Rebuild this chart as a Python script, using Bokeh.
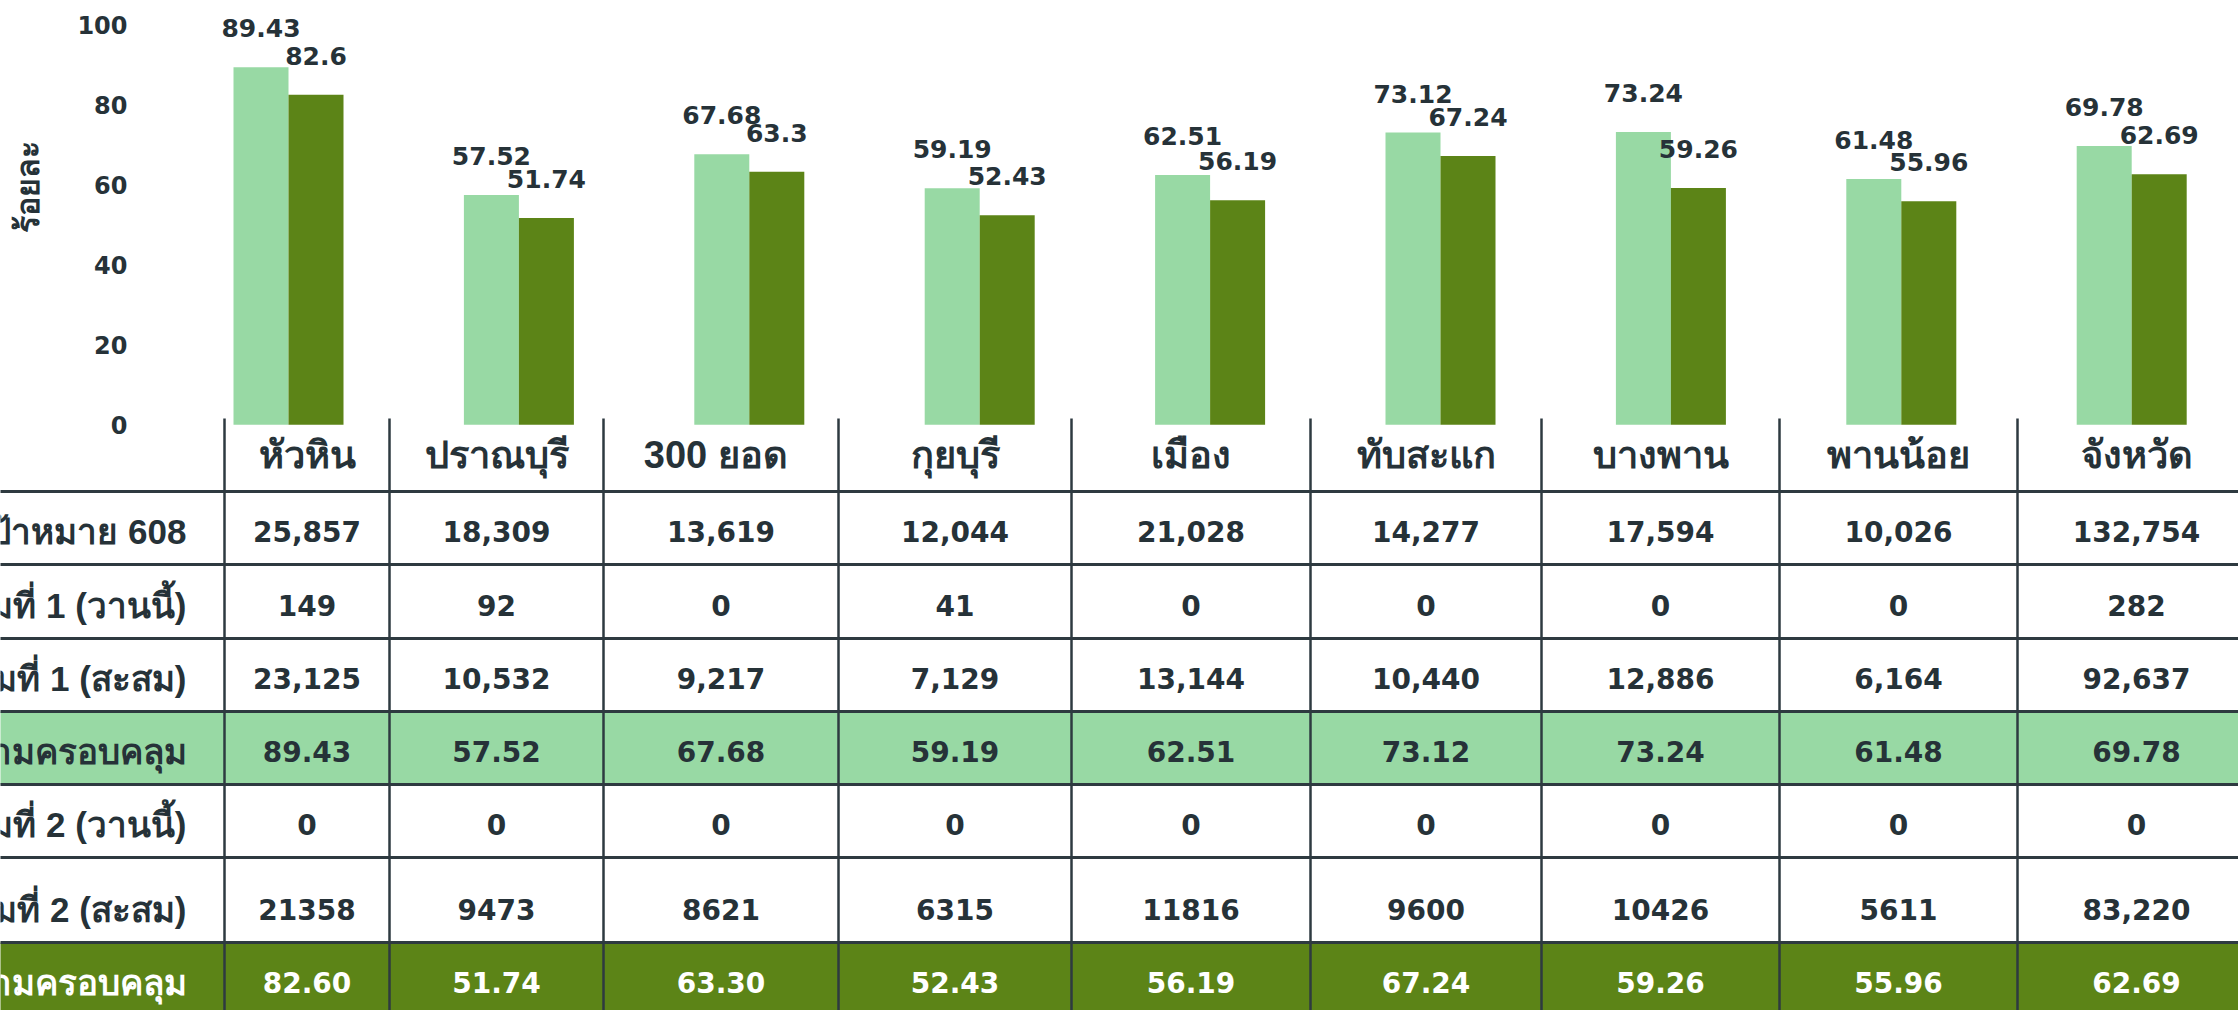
import math
from bokeh.plotting import figure
from bokeh.models import Range1d, LinearAxis, FixedTicker
from bokeh.core.properties import value
from bokeh.embed import file_html
from bokeh.resources import INLINE

# ---------------- data ----------------
categories = ["หัวหิน", "ปราณบุรี", "300  ยอด", "กุยบุรี", "เมือง", "ทับสะแก", "บางพาน", "พานน้อย", "จังหวัด"]
dose1_coverage = [89.43, 57.52, 67.68, 59.19, 62.51, 73.12, 73.24, 61.48, 69.78]
dose2_coverage = [82.6, 51.74, 63.3, 52.43, 56.19, 67.24, 59.26, 55.96, 62.69]
y_ticks = [0, 20, 40, 60, 80, 100]
y_title = "ร้อยละ"

row_labels = ["เป้าหมาย 608", "เข็มที่ 1 (วานนี้)", "เข็มที่ 1 (สะสม)", "ความครอบคลุม",
              "เข็มที่ 2 (วานนี้)", "เข็มที่ 2 (สะสม)", "ความครอบคลุม"]
target_608 = ["25,857", "18,309", "13,619", "12,044", "21,028", "14,277", "17,594", "10,026", "132,754"]
dose1_today = ["149", "92", "0", "41", "0", "0", "0", "0", "282"]
dose1_total = ["23,125", "10,532", "9,217", "7,129", "13,144", "10,440", "12,886", "6,164", "92,637"]
dose2_today = ["0", "0", "0", "0", "0", "0", "0", "0", "0"]
dose2_total = ["21358", "9473", "8621", "6315", "11816", "9600", "10426", "5611", "83,220"]

# ---------------- style / layout ----------------
LIGHT = "#98D9A4"
DARK = "#5C8417"
INK = "#263238"
RULE = "#2E3A40"
NUM_FONT = "DejaVu Sans"
THAI_FONT = "'Liberation Sans', sans-serif"

VIEW_X = (0, 2238)
VIEW_Y = (0, 1010)
CAT_FIRST_PX, CAT_STEP_PX = 288.0, 230.4
ZERO_PX, PX_PER_PCT = 424.3, 3.997
BAR_W_PX = 55.0
COL_EDGES_PX = [-60, 224, 389, 603, 838, 1071, 1310, 1541, 1779, 2017, 2255]
ROW_EDGES_PX = [418, 491, 564, 638, 711, 784, 857, 942, 1015]
BASELINE_UP = 33.5
HEADER_EXTRA_UP = 3
LABEL_RIGHT_PX = 186
YTITLE_PX = (27.7, 186)

W = VIEW_X[1] - VIEW_X[0]
H = VIEW_Y[1] - VIEW_Y[0]

p = figure(width=W, height=H,
           x_range=Range1d(*VIEW_X), y_range=Range1d(VIEW_Y[1], VIEW_Y[0]),
           output_backend="svg", toolbar_location=None,
           x_axis_location=None, y_axis_location=None,
           min_border=0, outline_line_color=None)
p.grid.visible = False
p.background_fill_color = "white"

p.extra_x_ranges = {"cat": Range1d((VIEW_X[0] - CAT_FIRST_PX) / CAT_STEP_PX,
                                   (VIEW_X[1] - CAT_FIRST_PX) / CAT_STEP_PX)}
p.extra_y_ranges = {"pct": Range1d((ZERO_PX - VIEW_Y[1]) / PX_PER_PCT,
                                   (ZERO_PX - VIEW_Y[0]) / PX_PER_PCT)}

# ---------------- bars ----------------
half = BAR_W_PX / CAT_STEP_PX / 2
idx = list(range(len(categories)))
x_d1 = [i - half for i in idx]
x_d2 = [i + half for i in idx]
p.vbar(x=x_d1, top=dose1_coverage, bottom=0, width=2 * half, fill_color=LIGHT,
       line_color=None, x_range_name="cat", y_range_name="pct")
p.vbar(x=x_d2, top=dose2_coverage, bottom=0, width=2 * half, fill_color=DARK,
       line_color=None, x_range_name="cat", y_range_name="pct")

for xs, vals in ((x_d1, dose1_coverage), (x_d2, dose2_coverage)):
    p.text(x=xs, y=vals, text=[str(v) for v in vals], x_range_name="cat", y_range_name="pct",
           text_align="center", text_baseline="middle", y_offset=-39,
           text_font=value(NUM_FONT), text_font_style="bold",
           text_font_size=value("25px"), text_color=INK)

ax = LinearAxis(y_range_name="pct", ticker=FixedTicker(ticks=y_ticks), fixed_location=127)
ax.axis_line_color = None
ax.major_tick_line_color = None
ax.minor_tick_line_color = None
ax.major_tick_out = 0
ax.major_tick_in = 0
ax.major_label_standoff = 0
ax.major_label_text_font = NUM_FONT
ax.major_label_text_font_style = "bold"
ax.major_label_text_font_size = "24px"
ax.major_label_text_color = INK
p.add_layout(ax, "left")

p.text(x=[YTITLE_PX[0]], y=[YTITLE_PX[1]], text=[y_title], angle=math.pi / 2,
       text_align="center", text_baseline="middle",
       text_font=value(THAI_FONT), text_font_style="bold",
       text_font_size=value("32px"), text_color=INK)

# ---------------- table ----------------
left_edge, right_edge = COL_EDGES_PX[0], COL_EDGES_PX[-1]
row_fills = [None, None, None, None, LIGHT, None, None, DARK]
for r, fc in enumerate(row_fills):
    if fc:
        p.quad(left=left_edge, right=right_edge, top=ROW_EDGES_PX[r], bottom=ROW_EDGES_PX[r + 1],
               fill_color=fc, line_color=None)

inner_rows = ROW_EDGES_PX[1:-1]
p.segment(x0=[left_edge] * len(inner_rows), x1=[right_edge] * len(inner_rows),
          y0=inner_rows, y1=inner_rows, line_color=RULE, line_width=3)
v_edges = COL_EDGES_PX[1:]
p.segment(x0=v_edges, x1=v_edges, y0=[ROW_EDGES_PX[0]] * len(v_edges),
          y1=[ROW_EDGES_PX[-1]] * len(v_edges), line_color=RULE, line_width=2.5)

col_centers = [(COL_EDGES_PX[j] + COL_EDGES_PX[j + 1]) / 2 for j in range(1, len(COL_EDGES_PX) - 1)]
baselines = [ROW_EDGES_PX[r + 1] - BASELINE_UP for r in range(len(ROW_EDGES_PX) - 1)]

# header (district names)
p.text(x=col_centers, y=[baselines[0] - HEADER_EXTRA_UP] * len(categories), text=categories,
       text_align="center", text_baseline="alphabetic",
       text_font=value(THAI_FONT), text_font_style="bold",
       text_font_size=value("38px"), text_color=INK)

table_rows = [target_608, dose1_today, dose1_total,
              [f"{v:.2f}" for v in dose1_coverage],
              dose2_today, dose2_total,
              [f"{v:.2f}" for v in dose2_coverage]]
for r, cells in enumerate(table_rows, start=1):
    color = "white" if row_fills[r] == DARK else INK
    p.text(x=col_centers, y=[baselines[r]] * len(cells), text=cells,
           text_align="center", text_baseline="alphabetic",
           text_font=value(NUM_FONT), text_font_style="bold",
           text_font_size=value("28px"), text_color=color)
    p.text(x=[LABEL_RIGHT_PX], y=[baselines[r]], text=[row_labels[r - 1]],
           text_align="right", text_baseline="alphabetic",
           text_font=value(THAI_FONT), text_font_style="bold",
           text_font_size=value("35px"), text_color=color)

open("out.html", "w").write(file_html(p, INLINE))
